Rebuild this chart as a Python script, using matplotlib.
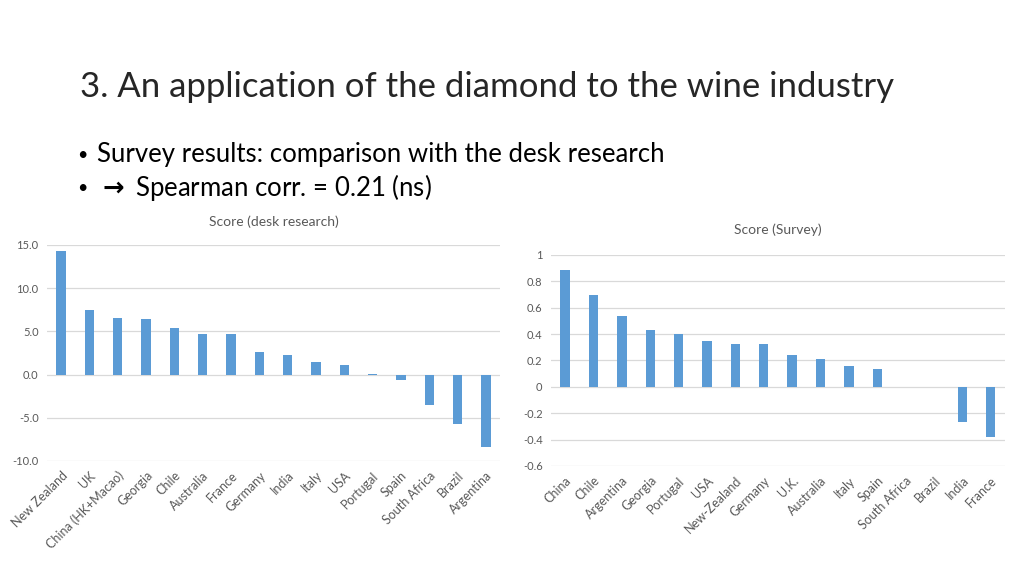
import matplotlib
matplotlib.use("Agg")
import matplotlib.pyplot as plt

plt.rcParams["font.family"] = ["Lato", "DejaVu Sans"]
BLUE, GRID, TXT = "#5b9bd5", "#d9d9d9", "#595959"

desk_countries = ["New Zealand", "UK", "China (HK+Macao)", "Georgia", "Chile", "Australia", "France",
                  "Germany", "India", "Italy", "USA", "Portugal", "Spain", "South Africa", "Brazil", "Argentina"]
desk_scores = [14.35, 7.48, 6.52, 6.40, 5.40, 4.74, 4.67, 2.58, 2.24, 1.47, 1.16, 0.08, -0.62, -3.55, -5.71, -8.37]
desk_ticks = [-10, -5, 0, 5, 10, 15]

survey_countries = ["China", "Chile", "Argentina", "Georgia", "Portugal", "USA", "New-Zealand", "Germany",
                    "U.K.", "Australia", "Italy", "Spain", "South Africa", "Brazil", "India", "France"]
survey_scores = [0.89, 0.694, 0.538, 0.432, 0.40, 0.35, 0.323, 0.323, 0.242, 0.215, 0.162, 0.134, 0, 0, -0.27, -0.379]
survey_ticks = [-0.6, -0.4, -0.2, 0, 0.2, 0.4, 0.6, 0.8, 1]

fig = plt.figure(figsize=(10.24, 5.76), dpi=100)
fig.text(0.078, 0.849, "3. An application of the diamond to the wine industry", fontsize=25,
         color="#262626", va="center")
for y, line in [(0.731, "Survey results: comparison with the desk research"),
                (0.674, "$\\mathbf{\\rightarrow}$ Spearman corr. = 0.21 (ns)")]:
    fig.text(0.075, y, "•", fontsize=13, color="#000000", va="center")
    fig.text(0.095, y, line, fontsize=18.5, color="#000000", va="center")


def bars(rect, names, vals, ticks, fmt, title, title_y):
    ax = fig.add_axes(rect)
    ax.bar(range(len(vals)), vals, width=0.33, color=BLUE, zorder=3)
    ax.set_xlim(-0.5, len(vals) - 0.5)
    ax.set_ylim(ticks[0], ticks[-1])
    ax.set_yticks(ticks)
    ax.set_yticklabels([fmt(t) for t in ticks], fontsize=8, color=TXT)
    ax.set_xticks(range(len(vals)))
    ax.set_xticklabels(names, rotation=45, ha="right", rotation_mode="anchor", fontsize=9, color=TXT)
    ax.yaxis.grid(True, color=GRID, lw=0.9, zorder=0)
    for s in ax.spines.values():
        s.set_visible(False)
    ax.tick_params(length=0, pad=6)
    fig.text(rect[0] + rect[2] / 2, title_y, title, fontsize=10, color=TXT, ha="center", va="center")
    return ax


bars([0.0459, 0.1997, 0.4424, 0.375], desk_countries, desk_scores, desk_ticks,
     lambda t: f"{t:.1f}", "Score (desk research)", 0.6146)
bars([0.538, 0.191, 0.4434, 0.3663], survey_countries, survey_scores, survey_ticks,
     lambda t: f"{t:g}", "Score (Survey)", 0.6007)

fig.savefig("out.png", dpi=100)
